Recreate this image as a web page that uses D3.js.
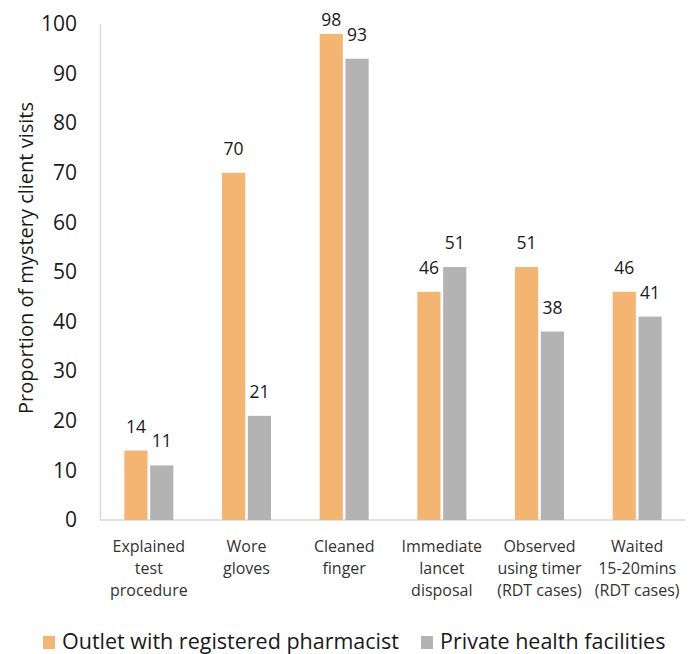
<!DOCTYPE html>
<html>
<head>
<meta charset="utf-8">
<script src="https://cdn.jsdelivr.net/npm/d3@7"></script>
<style>
  html, body { margin: 0; padding: 0; background: #fff; }
  svg { display: block; font-family: "Open Sans", Lato, sans-serif; }
</style>
</head>
<body>
<svg id="chart" width="693" height="654"></svg>
<script>
// Quality-of-testing indicators, two outlet types
const categories = [
  ["Explained", "test", "procedure"],
  ["Wore", "gloves"],
  ["Cleaned", "finger"],
  ["Immediate", "lancet", "disposal"],
  ["Observed", "using timer", "(RDT cases)"],
  ["Waited", "15-20mins", "(RDT cases)"]
];
const seriesNames = ["Outlet with registered pharmacist", "Private health facilities"];
const pharmacist = [14, 70, 98, 46, 51, 46];
const privateFacilities = [11, 21, 93, 51, 38, 41];
const yTicks = [0, 10, 20, 30, 40, 50, 60, 70, 80, 90, 100];
const colors = ["#F4B572", "#B3B3B3"];

const svg = d3.select("#chart");
const plotLeft = 100, plotRight = 686;

const x0 = d3.scaleBand()
  .domain(d3.range(categories.length))
  .range([plotLeft, plotRight]);

const barW = 22, barGap = 5;
const x1 = d3.scaleBand()
  .domain([0, 1])
  .range([x0.bandwidth() / 2 - barW - barGap / 2, x0.bandwidth() / 2 + barW + barGap / 2])
  .paddingInner(barGap / (2 * barW + barGap));

const y = d3.scaleLinear().domain([0, 100]).range([520, 24]);

// y axis
const yAxis = svg.append("g")
  .attr("transform", `translate(${plotLeft},0)`)
  .call(d3.axisLeft(y).tickValues(yTicks).tickSize(0).tickPadding(23));
yAxis.select(".domain").attr("stroke", "#D9D9D9").attr("stroke-width", 1.5);
yAxis.selectAll("text")
  .attr("font-size", 21).attr("fill", "#1a1a1a")
  .attr("font-family", "'Open Sans', Lato, sans-serif");

// x axis line
svg.append("line")
  .attr("x1", plotLeft).attr("x2", plotRight)
  .attr("y1", y(0)).attr("y2", y(0))
  .attr("stroke", "#D9D9D9").attr("stroke-width", 1.5);

// bars
const data = categories.map((c, i) => ({ i, vals: [pharmacist[i], privateFacilities[i]] }));
const groups = svg.append("g").selectAll("g")
  .data(data).join("g")
  .attr("transform", d => `translate(${x0(d.i)},0)`);

groups.selectAll("rect")
  .data(d => d.vals.map((v, s) => ({ v, s })))
  .join("rect")
  .attr("x", d => x1(d.s))
  .attr("width", x1.bandwidth())
  .attr("y", d => y(d.v))
  .attr("height", d => y(0) - y(d.v))
  .attr("fill", d => colors[d.s]);

// value labels, kept inside the top of the plot area
groups.selectAll("text.val")
  .data(d => d.vals.map((v, s) => ({ v, s })))
  .join("text")
  .attr("class", "val")
  .attr("x", d => x1(d.s) + x1.bandwidth() / 2)
  .attr("y", d => Math.max(y(d.v) - 18, 26))
  .attr("text-anchor", "middle")
  .attr("font-size", 17.5)
  .attr("fill", "#1a1a1a")
  .text(d => d.v);

// category labels
const catG = svg.append("g");
categories.forEach((lines, i) => {
  const cx = x0(i) + x0.bandwidth() / 2;
  const t = catG.append("text")
    .attr("x", cx)
    .attr("y", 552)
    .attr("text-anchor", "middle")
    .attr("font-size", 16)
    .attr("fill", "#333");
  lines.forEach((ln, k) => {
    t.append("tspan")
      .attr("x", cx)
      .attr("dy", k === 0 ? 0 : 22)
      .text(ln);
  });
});

// y axis title
svg.append("text")
  .attr("transform", `translate(33,258) rotate(-90)`)
  .attr("text-anchor", "middle")
  .attr("font-size", 20)
  .attr("fill", "#1a1a1a")
  .text("Proportion of mystery client visits");

// legend
const legend = svg.append("g").attr("transform", "translate(0,649)");
const legendX = [43, 421];
seriesNames.forEach((name, s) => {
  legend.append("rect")
    .attr("x", legendX[s]).attr("y", -13)
    .attr("width", 12).attr("height", 13)
    .attr("fill", colors[s]);
  legend.append("text")
    .attr("x", legendX[s] + 19).attr("y", 0)
    .attr("font-size", 21.5)
    .attr("fill", "#1a1a1a")
    .text(name);
});
</script>
</body>
</html>
